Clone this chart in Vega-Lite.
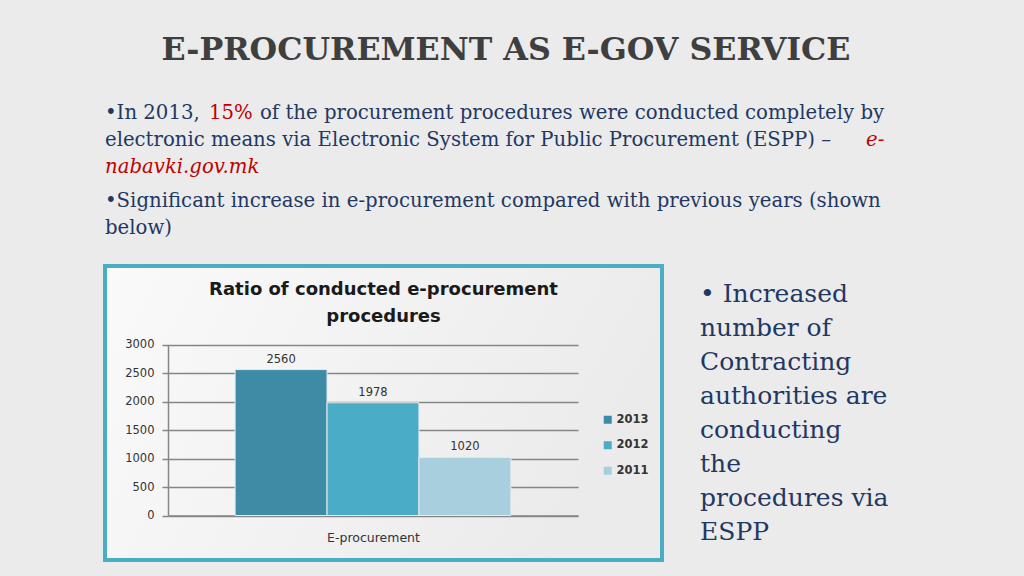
{
  "$schema": "https://vega.github.io/schema/vega-lite/v6.json",
  "background": "#ebebeb",
  "padding": {"left": 103, "top": 35, "right": 117, "bottom": 15},
  "bounds": "flush",
  "spacing": 2,
  "config": {"view": {"stroke": null}},
  "vconcat": [
    {
      "width": 802,
      "height": 160,
      "title": {"text": "E-PROCUREMENT AS E-GOV SERVICE", "font": "DejaVu Serif", "fontSize": 31.7, "fontWeight": "bold", "color": "#3f3f3f", "anchor": "middle", "baseline": "bottom", "offset": 4},
      "data": {"values": [
        {"para": 1, "line": 1, "part": "a", "text": "•In 2013,"},
        {"para": 1, "line": 1, "part": "b", "text": "15%"},
        {"para": 1, "line": 1, "part": "c", "text": "of the procurement procedures were conducted completely by"},
        {"para": 1, "line": 2, "part": "a", "text": "electronic means via Electronic System for Public Procurement (ESPP) –"},
        {"para": 1, "line": 2, "part": "d", "text": "e-"},
        {"para": 1, "line": 3, "part": "e", "text": "nabavki.gov.mk"},
        {"para": 2, "line": 1, "part": "a", "text": "•Significant increase in e-procurement compared with previous years (shown"},
        {"para": 2, "line": 2, "part": "a", "text": "below)"}
      ]},
      "encoding": {
        "x": {"value": 0},
        "y": {"field": "para", "type": "ordinal", "axis": null, "scale": {"type": "band", "paddingInner": 0.182, "paddingOuter": 0}},
        "yOffset": {"field": "line", "type": "ordinal", "scale": {"type": "point", "padding": 0.333}},
        "text": {"field": "text"}
      },
      "layer": [
        {"transform": [{"filter": "datum.part == 'a'"}], "mark": {"type": "text", "align": "left", "baseline": "middle", "font": "DejaVu Serif", "fontSize": 19.7, "color": "#1f3864"}},
        {"transform": [{"filter": "datum.part == 'b'"}], "mark": {"type": "text", "align": "left", "baseline": "middle", "font": "DejaVu Serif", "fontSize": 19.7, "color": "#c00000", "dx": 104}},
        {"transform": [{"filter": "datum.part == 'c'"}], "mark": {"type": "text", "align": "left", "baseline": "middle", "font": "DejaVu Serif", "fontSize": 19.7, "color": "#1f3864", "dx": 155}},
        {"transform": [{"filter": "datum.part == 'd'"}], "mark": {"type": "text", "align": "left", "baseline": "middle", "font": "DejaVu Serif", "fontSize": 19.7, "fontStyle": "italic", "color": "#c00000", "dx": 761}},
        {"transform": [{"filter": "datum.part == 'e'"}], "mark": {"type": "text", "align": "left", "baseline": "middle", "font": "DejaVu Serif", "fontSize": 19.7, "fontStyle": "italic", "color": "#c00000"}}
      ]
    },
    {
      "hconcat": [
        {
          "width": 557,
          "height": 294,
          "view": {"stroke": "#4bacc6", "strokeWidth": 4, "fill": {"gradient": "linear", "x1": 0, "y1": 0, "x2": 1, "y2": 0.3, "stops": [{"offset": 0, "color": "#fafafa"}, {"offset": 1, "color": "#ebebeb"}]}},
          "title": {"text": ["Ratio of conducted e-procurement", "procedures"], "font": "DejaVu Sans", "fontSize": 18, "fontWeight": "bold", "color": "#1a1a1a", "anchor": "middle", "baseline": "bottom", "offset": -78, "lineHeight": 27},
          "data": {"values": [
            {"year": "2013", "procedures": 2560},
            {"year": "2012", "procedures": 1978},
            {"year": "2011", "procedures": 1020}
          ]},
          "encoding": {
            "x": {"field": "year", "type": "nominal", "sort": ["2013", "2012", "2011"],
              "scale": {"type": "band", "range": [63, 473], "paddingInner": 0, "paddingOuter": 0.73},
              "axis": {"orient": "bottom", "offset": -44.5, "domain": true, "domainColor": "#868686", "domainWidth": 1.5, "ticks": false, "labels": false, "grid": false, "title": "E-procurement", "titleFont": "DejaVu Sans", "titleFontSize": 12.5, "titleFontWeight": "normal", "titleColor": "#333333", "titlePadding": 16}},
            "y": {"field": "procedures", "type": "quantitative",
              "scale": {"domain": [0, 3000], "range": [249.5, 78.5], "nice": false},
              "axis": {"offset": -63, "values": [0, 500, 1000, 1500, 2000, 2500, 3000], "format": "d", "grid": true, "gridColor": "#868686", "gridWidth": 1.5, "domainColor": "#868686", "domainWidth": 1.5, "tickColor": "#868686", "tickSize": 6, "tickWidth": 1.5, "labelFont": "DejaVu Sans", "labelFontSize": 11.5, "labelColor": "#333333", "labelPadding": 8, "title": null}}
          },
          "layer": [
            {
              "mark": {"type": "bar", "stroke": "#e6ecee", "strokeWidth": 1},
              "encoding": {
                "color": {"field": "year", "type": "nominal",
                  "scale": {"domain": ["2013", "2012", "2011"], "range": ["#3e8ba6", "#4bacc8", "#a8cfdd"]},
                  "legend": {"orient": "none", "legendX": 497, "legendY": 310, "title": null, "symbolType": "square", "symbolSize": 64, "symbolStrokeWidth": 0, "labelFont": "DejaVu Sans", "labelFontSize": 11.5, "labelFontWeight": "bold", "labelColor": "#333333", "rowPadding": 12.5, "labelOffset": 3}}
              }
            },
            {
              "mark": {"type": "text", "baseline": "bottom", "dy": -5, "font": "DejaVu Sans", "fontSize": 11.5, "color": "#333333"},
              "encoding": {"text": {"field": "procedures", "type": "quantitative", "format": "d"}}
            }
          ]
        },
        {
          "width": 186,
          "height": 294,
          "data": {"values": [
            {"line": 1, "text": "• Increased"},
            {"line": 2, "text": "number of"},
            {"line": 3, "text": "Contracting"},
            {"line": 4, "text": "authorities are"},
            {"line": 5, "text": "conducting"},
            {"line": 6, "text": "the"},
            {"line": 7, "text": "procedures via"},
            {"line": 8, "text": "ESPP"}
          ]},
          "mark": {"type": "text", "align": "left", "baseline": "middle", "font": "DejaVu Serif", "fontSize": 25, "color": "#1f3864"},
          "encoding": {
            "x": {"value": 0},
            "y": {"field": "line", "type": "ordinal", "axis": null, "scale": {"type": "point", "padding": 0.806}},
            "text": {"field": "text"}
          }
        }
      ],
      "spacing": 38,
      "bounds": "flush"
    }
  ]
}
